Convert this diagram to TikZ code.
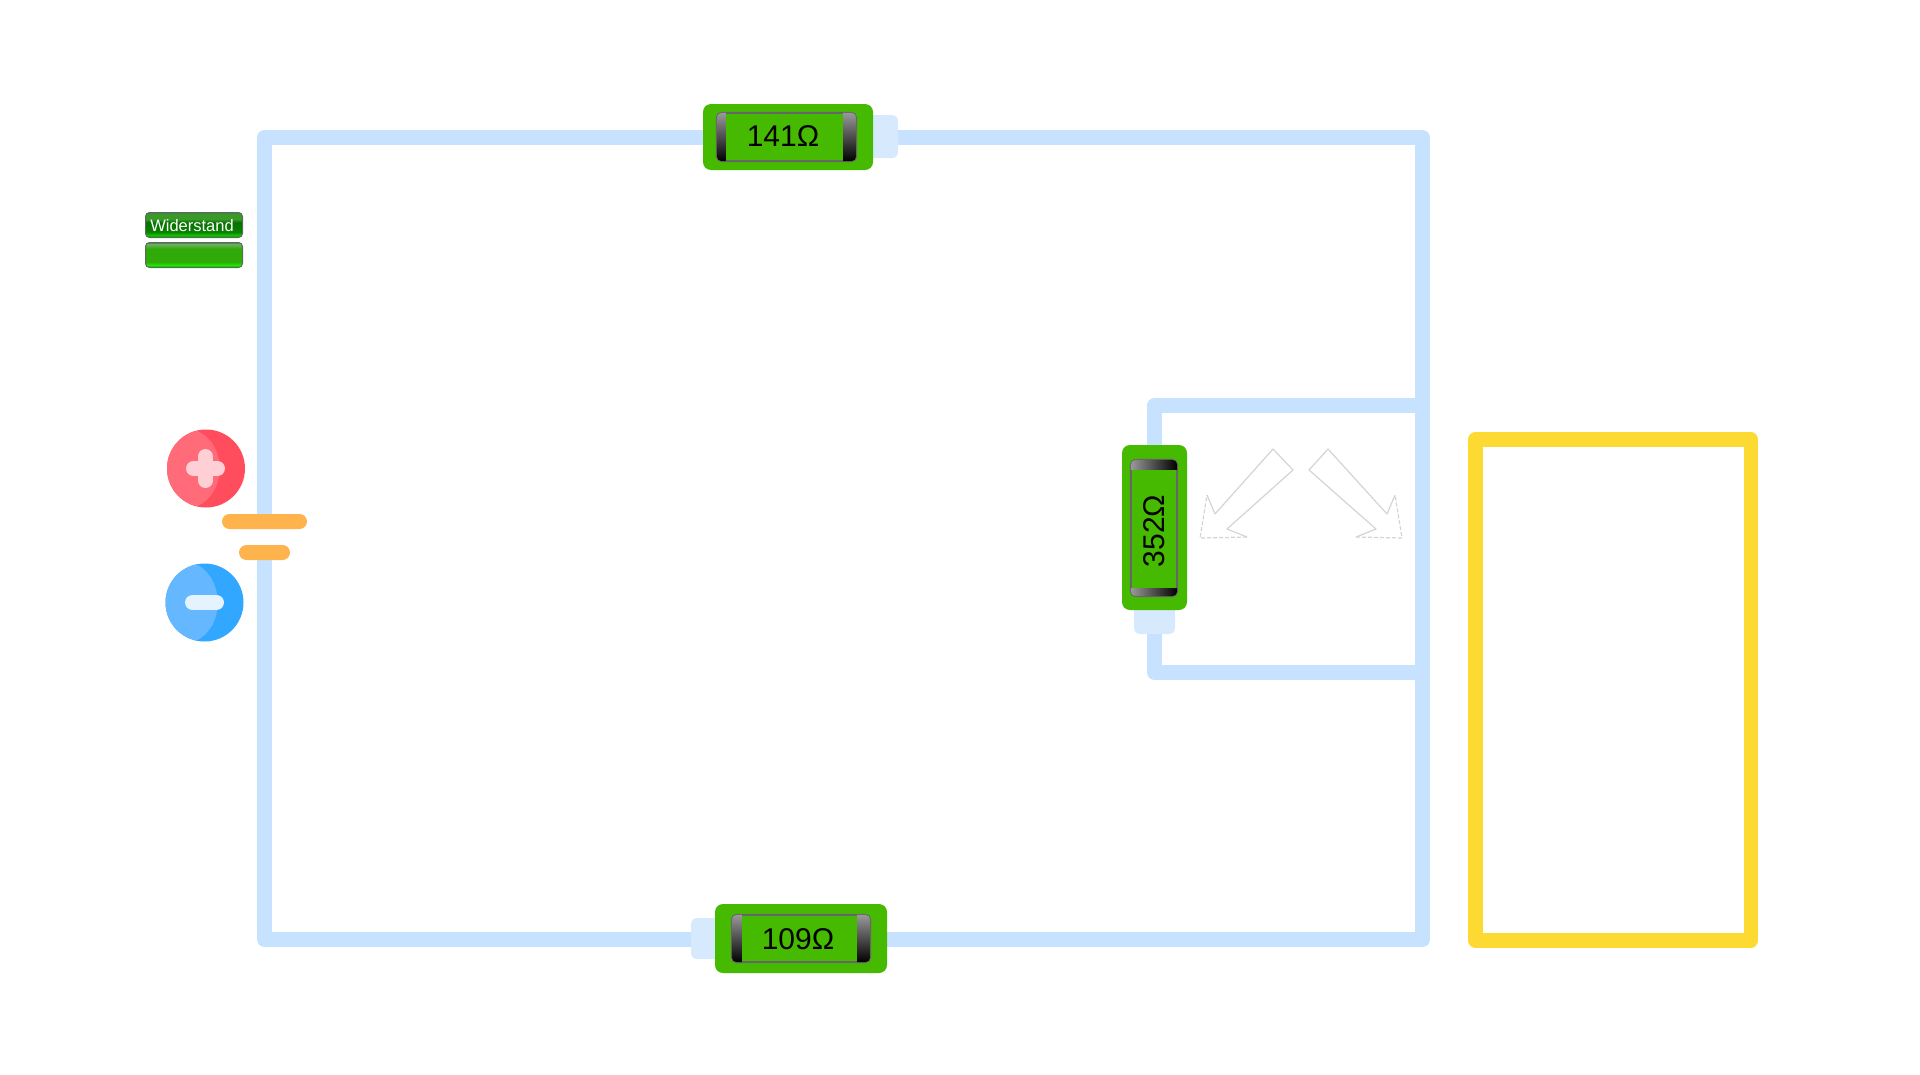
\documentclass[tikz,border=0pt]{standalone}
\usepackage{fontspec}
\setmainfont{Liberation Sans}
\definecolor{wire}{HTML}{C7E2FF}
\definecolor{tabblue}{HTML}{D6E9FD}
\definecolor{bodygreen}{HTML}{46BA00}
\definecolor{batorange}{HTML}{FFB34D}
\definecolor{railyellow}{HTML}{FCDA32}
\definecolor{plusred}{HTML}{FF4D5E}
\definecolor{plusfront}{HTML}{FF6B78}
\definecolor{pluspale}{HTML}{FFCFD6}
\definecolor{minusblue}{HTML}{31A7FF}
\definecolor{minusfront}{HTML}{65B8FF}
\definecolor{minuspale}{HTML}{E5F3FF}
\definecolor{arrowgrey}{HTML}{D4D4D4}
\definecolor{btnrim}{HTML}{55705A}
\definecolor{btndark}{HTML}{0B5A00}
\definecolor{btnmid}{HTML}{077000}
\definecolor{btnglow}{HTML}{12C800}
\definecolor{btnsoft}{HTML}{3A9A28}
\definecolor{barglow}{HTML}{20F000}
\definecolor{barmid}{HTML}{2FAA08}
\definecolor{barsoft}{HTML}{70B060}
\pgfdeclareverticalshading{btntop}{100bp}{color(0bp)=(btndark); color(25bp)=(btndark); color(29bp)=(btnglow); color(36bp)=(btnmid!80!btnglow); color(55bp)=(btnmid); color(62bp)=(btnsoft); color(72bp)=(btnsoft); color(75bp)=(btnrim); color(100bp)=(btnrim)}
\pgfdeclareverticalshading{btnbar}{100bp}{color(0bp)=(btndark); color(25bp)=(btndark); color(29bp)=(barglow); color(36bp)=(barmid); color(62bp)=(barmid); color(72bp)=(barsoft); color(75bp)=(btnrim); color(100bp)=(btnrim)}
\tikzset{
  wireline/.style={draw=wire,line width=15pt,line join=round},
  tabpart/.style={fill=tabblue,rounded corners=6pt,inner sep=0pt,minimum width=#1},
  bodypart/.style={fill=bodygreen,rounded corners=8pt,inner sep=0pt},
  windowpart/.style={fill=bodygreen,rounded corners=5pt,inner sep=0pt},
  windowedge/.style={draw=black!60,line width=2pt,rounded corners=5pt},
  capfade/.style={top color=black!40,bottom color=black},
  capside/.style={left color=black!40,right color=black},
  batbar/.style={fill=batorange,rounded corners=7.5pt,inner sep=0pt},
  valuetext/.style={font=\fontsize{30}{30}\selectfont,text=black,inner sep=0pt},
  btn/.style={draw=btnrim,line width=1pt,rounded corners=4pt,inner sep=0pt,
    minimum width=97pt,minimum height=25pt},
  slidearrow/.style={draw=arrowgrey,line width=1.2pt,line join=round},
}
\begin{document}
\begin{tikzpicture}[x=1pt,y=-1pt]

        \useasboundingbox (0,0) rectangle (1920,1074);

        % Corners of the circuit
        \coordinate (tl) at (264.5,137.5);
        \coordinate (tr) at (1422.5,137.5);
        \coordinate (bl) at (264.5,939.5);
        \coordinate (br) at (1422.5,939.5);
        \coordinate (battop) at (264.5,521);
        \coordinate (batbot) at (264.5,552);
        \coordinate (upper) at (1422.5,405.5);
        \coordinate (lower) at (1422.5,672.5);
        \coordinate (upperl) at (1154.5,405.5);
        \coordinate (lowerl) at (1154.5,672.5);
        \coordinate (midtop) at (1154.5,450);
        \coordinate (midbot) at (1154.5,630);

        % Wires
        \draw[wireline] (battop) -- (tl) -- (tr) -- (br) -- (bl) -- (batbot);
        \draw[wireline] (upper) -- (upperl) -- (midtop);
        \draw[wireline] (lower) -- (lowerl) -- (midbot);

        % Top resistor
        \node[tabpart=50pt,minimum height=43pt] (toptab) at (873,136.5) {};
        \node[bodypart,minimum width=170pt,minimum height=66pt] (topbody) at (788,137) {};
        \node[windowpart,minimum width=139pt,minimum height=48pt] (topwin) at (786.5,137) {};
        \draw[windowedge] (topwin.north west) rectangle (topwin.south east);
        \begin{scope}
          \clip[rounded corners=5pt] (topwin.north west) rectangle (topwin.south east);
          \shade[capfade] (topwin.north west) rectangle ([xshift=9pt]topwin.south west);
          \shade[capfade] ([xshift=-13pt]topwin.north east) rectangle (topwin.south east);
        \end{scope}
        \node[valuetext] (topval) at (783,136) {141Ω};

        % Bottom resistor
        \node[tabpart=50pt,minimum height=41pt] (bottab) at (716,938.5) {};
        \node[bodypart,minimum width=172pt,minimum height=69pt] (botbody) at (801,938.5) {};
        \node[windowpart,minimum width=138pt,minimum height=47pt] (botwin) at (801,938.5) {};
        \draw[windowedge] (botwin.north west) rectangle (botwin.south east);
        \begin{scope}
          \clip[rounded corners=5pt] (botwin.north west) rectangle (botwin.south east);
          \shade[capfade] (botwin.north west) rectangle ([xshift=10pt]botwin.south west);
          \shade[capfade] ([xshift=-13pt]botwin.north east) rectangle (botwin.south east);
        \end{scope}
        \node[valuetext] (botval) at (798,939) {109Ω};

        % Middle resistor
        \node[tabpart=41pt,minimum height=50pt] (midtab) at (1154.5,609) {};
        \node[bodypart,minimum width=65pt,minimum height=165pt] (midbody) at (1154.5,527.5) {};
        \node[windowpart,minimum width=46pt,minimum height=136pt] (midwin) at (1154,528) {};
        \draw[windowedge] (midwin.north west) rectangle (midwin.south east);
        \begin{scope}
          \clip[rounded corners=5pt] (midwin.north west) rectangle (midwin.south east);
          \shade[capside] (midwin.north west) rectangle ([yshift=-10pt]midwin.north east);
          \shade[capside] ([yshift=8pt]midwin.south west) rectangle (midwin.south east);
        \end{scope}
        \node[valuetext,rotate=90] (midval) at (1154,531) {352Ω};

        % Arrows next to the middle resistor
        \draw[slidearrow] (1207,495) -- (1215,514) -- (1273,449) -- (1293,470) -- (1227,529) -- (1247,537);
        \draw[slidearrow,dashed,dash pattern=on 4pt off 2pt] (1247,537) -- (1200,538) -- (1207,495);
        \draw[slidearrow] (1395,495) -- (1387,514) -- (1328,449) -- (1309,470) -- (1376,529) -- (1356,537);
        \draw[slidearrow,dashed,dash pattern=on 4pt off 2pt] (1356,537) -- (1402,538) -- (1395,495);

        % Battery
        \node[batbar,minimum width=85pt,minimum height=15pt] (batlong) at (264.5,521.5) {};
        \node[batbar,minimum width=51pt,minimum height=15pt] (batshort) at (264.5,552.5) {};

        % Plus sign
        \fill[plusred] (206,468.5) circle (39);
        \begin{scope}
          \clip (206,468.5) circle (39);
          \fill[plusfront] (167,430) -- (195,430) .. controls (228,442) and (228,495) .. (195,507) -- (167,507) -- cycle;
        \end{scope}
        \draw[pluspale,line width=15pt,line cap=round] (193.5,468.5) -- (217.5,468.5);
        \draw[pluspale,line width=15pt,line cap=round] (205.5,456.5) -- (205.5,480.5);

        % Minus sign
        \fill[minusblue] (204.5,602.5) circle (39);
        \begin{scope}
          \clip (204.5,602.5) circle (39);
          \fill[minusfront] (165,563) -- (193,563) .. controls (226,575) and (226,630) .. (193,642) -- (165,642) -- cycle;
        \end{scope}
        \draw[minuspale,line width=15pt,line cap=round] (192.5,602.5) -- (216.5,602.5);

        % Buttons
        \node[btn,shading=btntop] (btnlabel) at (194,225) {};
        \node[text=white,font=\fontsize{16.5}{16.5}\selectfont,inner sep=0pt] (btntext) at (192,226) {Widerstand};
        \node[btn,shading=btnbar] (btnvalue) at (194,255) {};

        % Yellow box
        \draw[railyellow,line width=14.5pt,line join=round] (1475.5,439.5) rectangle (1750.8,940.5);

    \end{tikzpicture}
\end{document}
